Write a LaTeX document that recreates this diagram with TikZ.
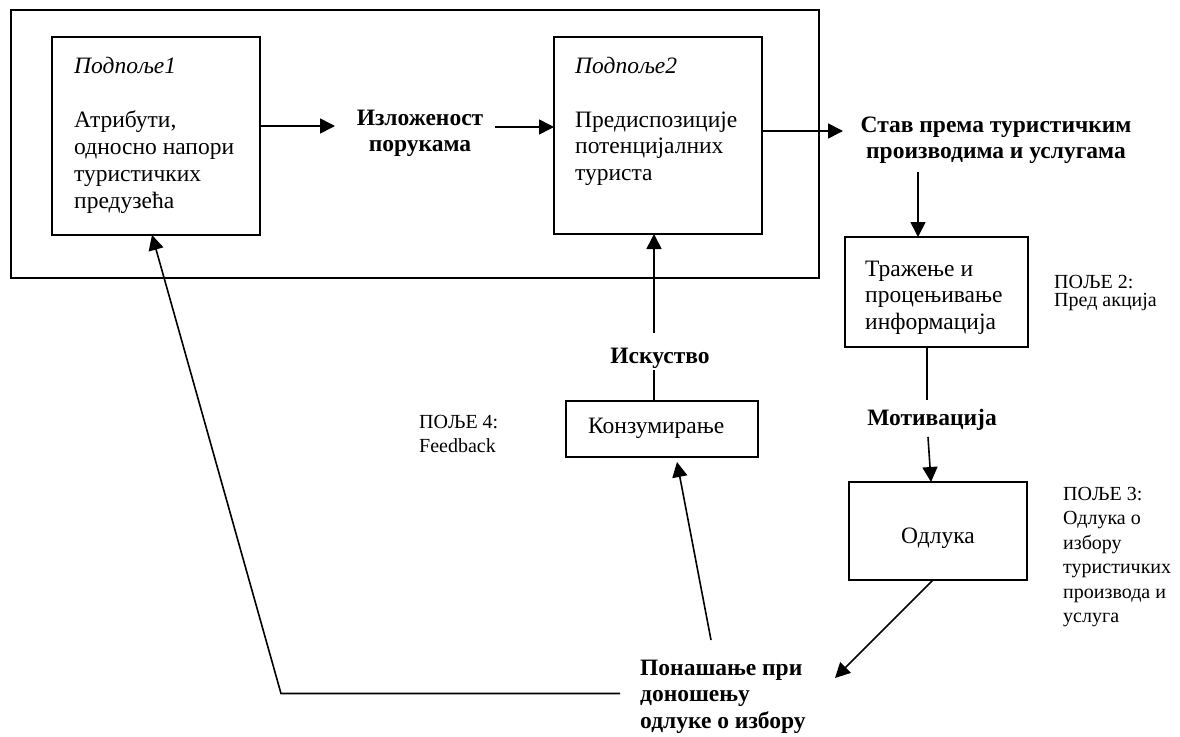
\documentclass[tikz,border=0pt]{standalone}
\usepackage{fontspec}
\setmainfont{Liberation Serif}
\usetikzlibrary{arrows.meta}
\begin{document}
\begin{tikzpicture}[x=1pt,y=-1pt,
  boxnode/.style={draw,line width=1.8pt,inner sep=0,anchor=center},
  conn/.style={line width=1.6pt},
  arr/.style={conn,-{Triangle[length=15pt,width=15pt]}},
  lbl/.style={inner sep=0,anchor=base west,align=left,font=\fontsize{23.5}{26.7}\selectfont},
  bl/.style={inner sep=0,anchor=base,align=center,font=\bfseries\fontsize{23.5}{26.5}\selectfont},
  sm/.style={inner sep=0,anchor=base west,align=left,font=\fontsize{20}{24.5}\selectfont}]
\useasboundingbox[fill=white] (0,0) rectangle (1180,736);
% outer frame
\draw[line width=1.8pt] (11,10) rectangle (819,278);
% boxes
\node[boxnode,minimum width=208pt,minimum height=198pt] (b1) at (156,136) {};
\node[boxnode,minimum width=208pt,minimum height=197pt] (b2) at (658,135.5) {};
\node[boxnode,minimum width=183pt,minimum height=110pt] (b3) at (936.5,292) {};
\node[boxnode,minimum width=178pt,minimum height=98pt] (b4) at (938,531) {};
\node[boxnode,minimum width=192pt,minimum height=56pt] (b5) at (662,429) {};
% box texts (base anchor = baseline of the last line)
\node[lbl,font=\itshape\fontsize{23.5}{26.7}\selectfont] (p1) at (74,73) {Подпоље1};
\node[lbl] (t1) at (74,208) {Атрибути,\\односно напори\\туристичких\\предузећа};
\node[lbl,font=\itshape\fontsize{23.5}{26.7}\selectfont] (p2) at (575,73) {Подпоље2};
\node[lbl] (t2) at (575,180.5) {Предиспозиције\\потенцијалних\\туриста};
\node[lbl] (t3) at (865,329.5) {Тражење и\\процењивање\\информација};
\node[lbl] (t4) at (901,543) {Одлука};
\node[lbl] (t5) at (588,433) {Конзумирање};
% bold labels
\node[bl] (izl) at (420,151.5) {Изложеност\\порукама};
\node[bl] (stav) at (996,158.5) {Став према туристичким\\производима и услугама};
\node[bl] (mot) at (932,425) {Мотивација};
\node[bl] (isk) at (660,363) {Искуство};
\node[bl,anchor=base west,align=left] (pon) at (640,728) {Понашање при\\доношењу\\одлуке о избору};
% small labels
\node[sm,font=\fontsize{20}{18.5}\selectfont] (f2) at (1054,306.5) {ПОЉЕ 2:\\Пред акција};
\node[sm] (f3) at (1063,622.5) {ПОЉЕ 3:\\Одлука о\\избору\\туристичких\\производа и\\услуга};
\node[sm] (f4) at (419,452.5) {ПОЉЕ 4:\\Feedback};
% coordinates
\coordinate (a1s) at (260,126);
\coordinate (a1e) at (335,126);
\coordinate (a2s) at (495,127);
\coordinate (a2e) at (554,127);
\coordinate (a3s) at (762,131);
\coordinate (a3e) at (843,131);
\coordinate (a4s) at (918,172);
\coordinate (a4e) at (918,237);
\coordinate (l5s) at (927,347);
\coordinate (l5e) at (927,400);
\coordinate (a6s) at (928,437);
\coordinate (a6e) at (931,482);
\coordinate (a7s) at (933,580);
\coordinate (a7e) at (835,678);
\coordinate (a8s) at (711,640);
\coordinate (a8e) at (677,462);
\coordinate (l9s) at (654,401);
\coordinate (l9e) at (654,370);
\coordinate (a10s) at (654,333);
\coordinate (a10e) at (654,234);
\coordinate (l11s) at (620,693.5);
\coordinate (l11c) at (281,693.5);
\coordinate (l11e) at (152,235);
% connectors
\draw[arr] (a1s) -- (a1e);
\draw[arr] (a2s) -- (a2e);
\draw[arr] (a3s) -- (a3e);
\draw[arr] (a4s) -- (a4e);
\draw[conn] (l5s) -- (l5e);
\draw[arr] (a6s) -- (a6e);
\draw[arr] (a7s) -- (a7e);
\draw[arr] (a8s) -- (a8e);
\draw[conn] (l9s) -- (l9e);
\draw[arr] (a10s) -- (a10e);
\draw[arr] (l11s) -- (l11c) -- (l11e);
\end{tikzpicture}
\end{document}
